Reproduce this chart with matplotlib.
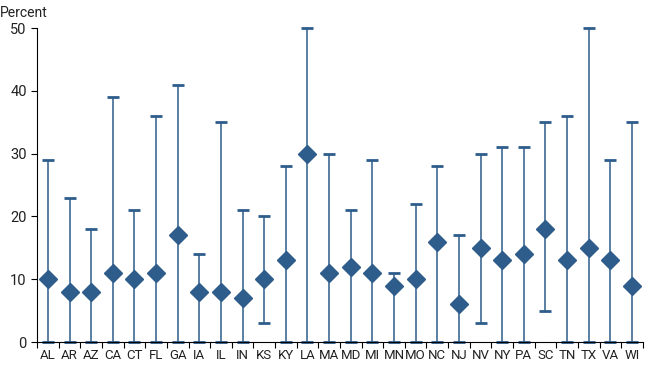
import numpy as np
import matplotlib.pyplot as plt
from matplotlib.ticker import FixedLocator

plt.rcParams['font.family'] = ['Roboto', 'DejaVu Sans']

states = ['AL', 'AR', 'AZ', 'CA', 'CT', 'FL', 'GA', 'IA', 'IL', 'IN', 'KS', 'KY', 'LA', 'MA',
          'MD', 'MI', 'MN', 'MO', 'NC', 'NJ', 'NV', 'NY', 'PA', 'SC', 'TN', 'TX', 'VA', 'WI']
low = [0, 0, 0, 0, 0, 0, 0, 0, 0, 0, 3, 0, 0, 0,
       0, 0, 0, 0, 0, 0, 3, 0, 0, 5, 0, 0, 0, 0]
mid = [10, 8, 8, 11, 10, 11, 17, 8, 8, 7, 10, 13, 30, 11,
       12, 11, 9, 10, 16, 6, 15, 13, 14, 18, 13, 15, 13, 9]
high = [29, 23, 18, 39, 21, 36, 41, 14, 35, 21, 20, 28, 50, 30,
        21, 29, 11, 22, 28, 17, 30, 31, 31, 35, 36, 50, 29, 35]

color = '#2e5d8c'

fig = plt.figure(figsize=(6.5, 3.65), dpi=100)
ax = fig.add_axes([0.057, 0.063, 0.932, 0.86])

x = np.arange(len(states))
mid = np.array(mid)
low = np.array(low)
high = np.array(high)
eb = ax.errorbar(x, mid, yerr=[mid - low, high - mid], fmt='none', ecolor=color,
                 elinewidth=1.1, capsize=4, capthick=2, zorder=2)
for artist in eb.lines[1]:
    artist.set_clip_on(False)
ax.plot(x, mid, 'D', color=color, markersize=9, zorder=3)

ax.set_xlim(-0.5, len(states) - 0.5)
ax.set_ylim(0, 50)
ax.set_yticks([0, 10, 20, 30, 40, 50])
ax.set_xticks(x)
ax.set_xticklabels(states, fontsize=9.5, color='#222222')
ax.xaxis.set_minor_locator(FixedLocator(np.arange(-0.5, len(states), 1)))
ax.tick_params(axis='x', which='major', length=0, pad=5)
ax.tick_params(axis='x', which='minor', length=4, width=0.8)
ax.tick_params(axis='y', length=4, width=0.8, labelsize=10.5, labelcolor='#222222')
for s in ['top', 'right']:
    ax.spines[s].set_visible(False)
ax.spines['left'].set_linewidth(0.8)
ax.spines['bottom'].set_linewidth(0.8)

fig.text(0.0, 0.965, 'Percent', fontsize=10, color='#222222', ha='left', va='center')

fig.savefig('out.png', dpi=100)
